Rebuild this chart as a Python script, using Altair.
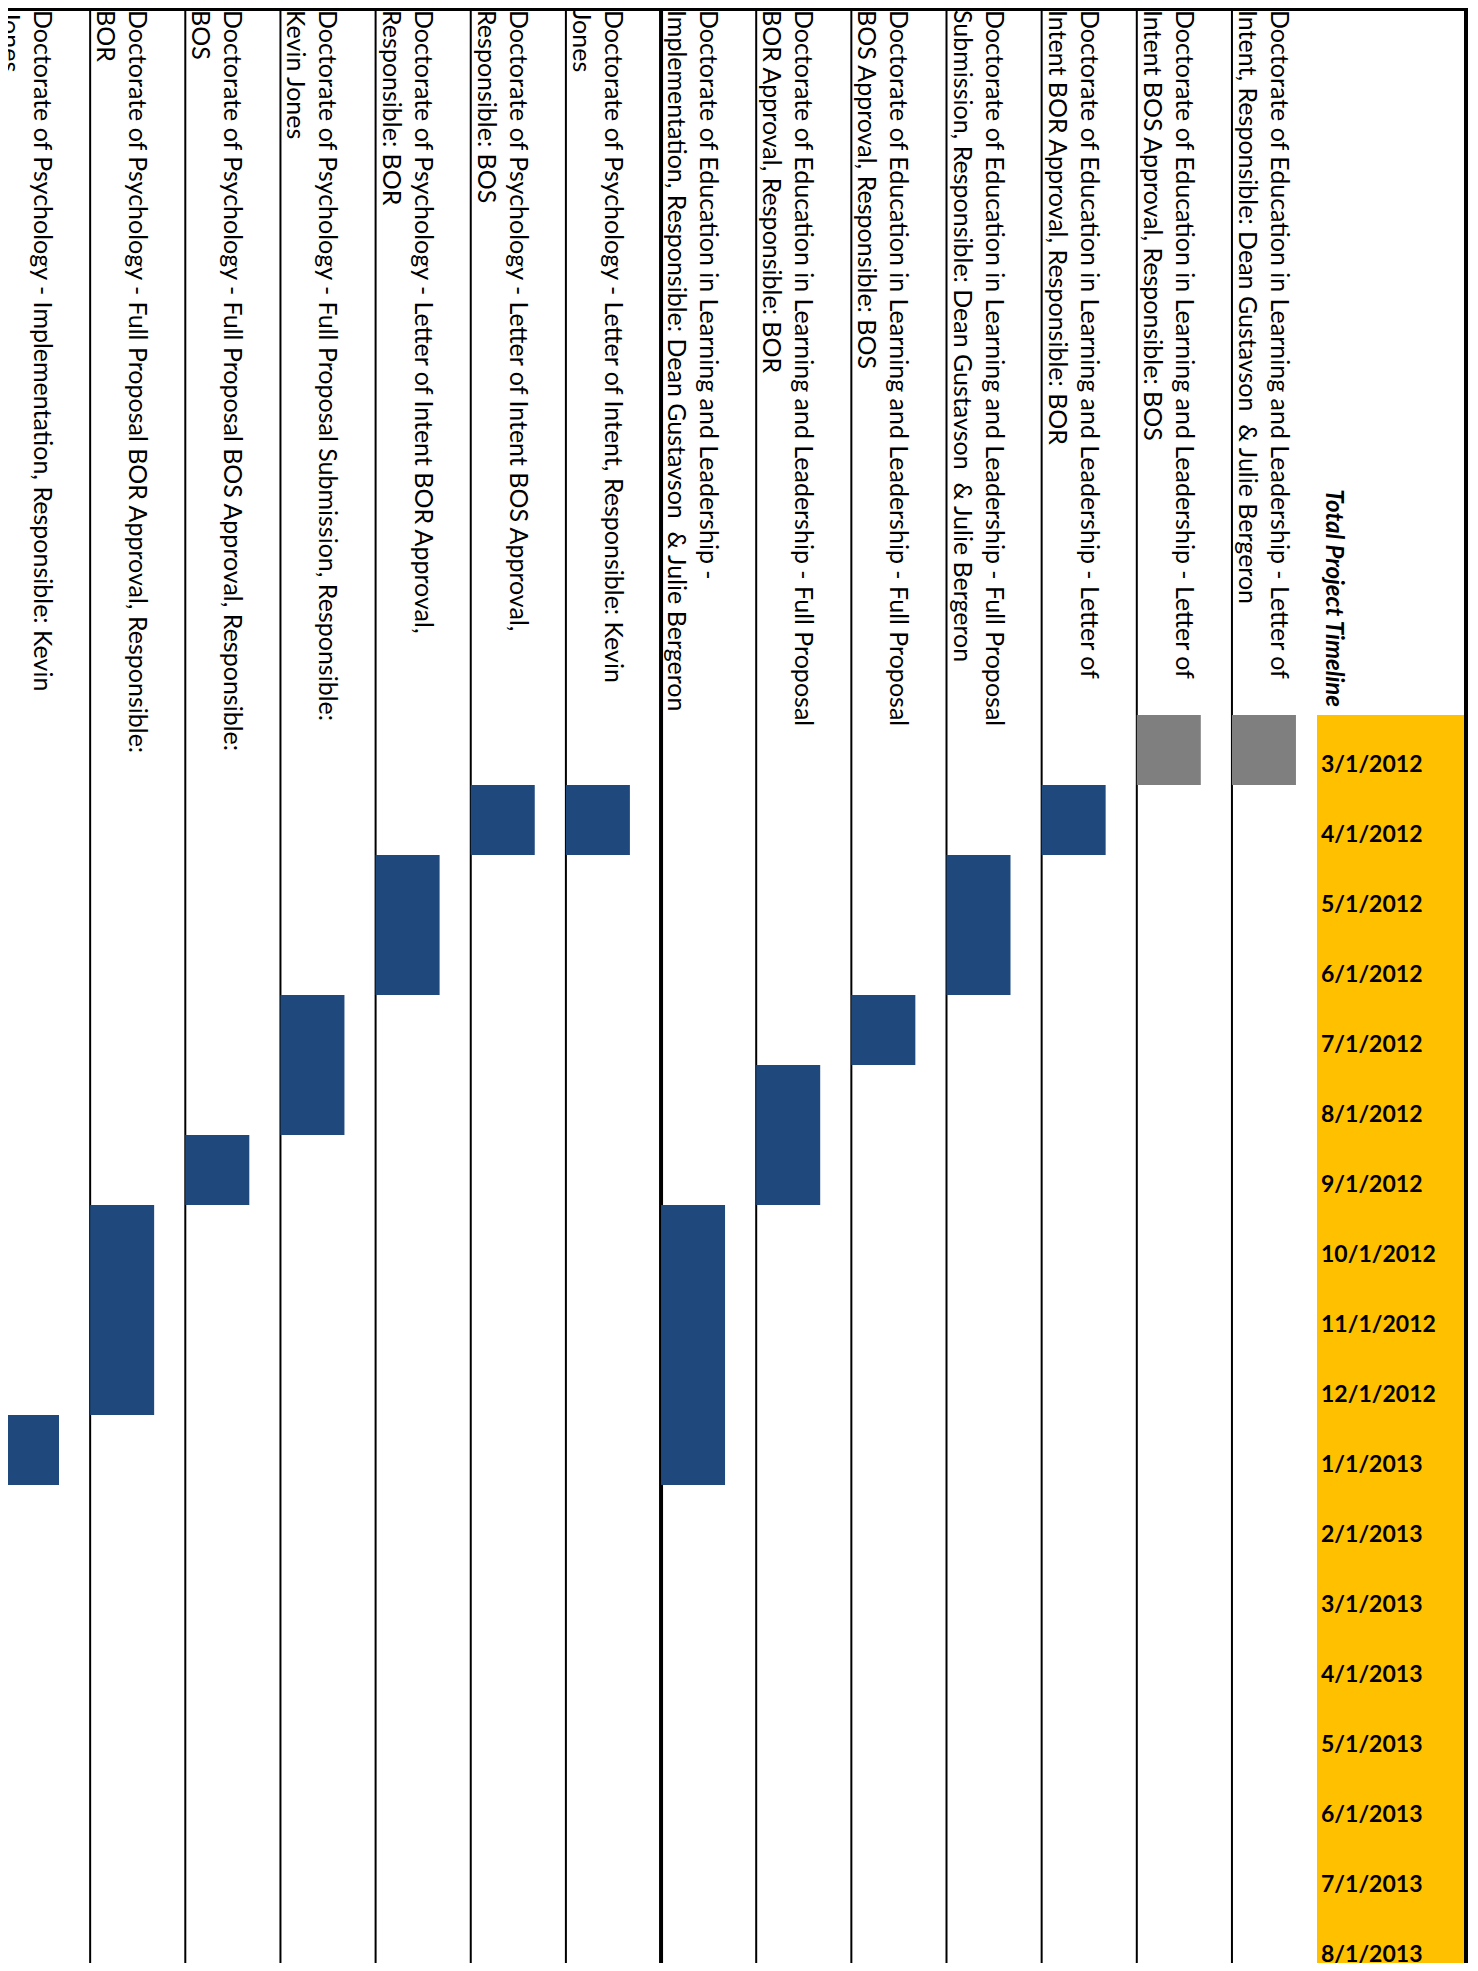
import altair as alt
import pandas as pd

# ---------------- data ----------------
dates = ["3/1/2012", "4/1/2012", "5/1/2012", "6/1/2012", "7/1/2012", "8/1/2012",
         "9/1/2012", "10/1/2012", "11/1/2012", "12/1/2012", "1/1/2013", "2/1/2013",
         "3/1/2013", "4/1/2013", "5/1/2013", "6/1/2013", "7/1/2013", "8/1/2013"]

title = "Total Project Timeline"

task_line1 = [
    "Doctorate of Education in Learning and Leadership - Letter of",
    "Doctorate of Education in Learning and Leadership - Letter of",
    "Doctorate of Education in Learning and Leadership - Letter of",
    "Doctorate of Education in Learning and Leadership - Full Proposal",
    "Doctorate of Education in Learning and Leadership - Full Proposal",
    "Doctorate of Education in Learning and Leadership - Full Proposal",
    "Doctorate of Education in Learning and Leadership -",
    "Doctorate of Psychology - Letter of Intent, Responsible: Kevin",
    "Doctorate of Psychology - Letter of Intent BOS Approval,",
    "Doctorate of Psychology - Letter of Intent BOR Approval,",
    "Doctorate of Psychology - Full Proposal Submission, Responsible:",
    "Doctorate of Psychology - Full Proposal BOS Approval, Responsible:",
    "Doctorate of Psychology - Full Proposal BOR Approval, Responsible:",
    "Doctorate of Psychology - Implementation, Responsible: Kevin",
]
task_line2 = [
    "Intent, Responsible: Dean Gustavson\u00a0 & Julie Bergeron",
    "Intent BOS Approval, Responsible: BOS",
    "Intent BOR Approval, Responsible: BOR",
    "Submission, Responsible: Dean Gustavson\u00a0 & Julie Bergeron",
    "BOS Approval, Responsible: BOS",
    "BOR Approval, Responsible: BOR",
    "Implementation, Responsible: Dean Gustavson\u00a0 & Julie Bergeron",
    "Jones",
    "Responsible: BOS",
    "Responsible: BOR",
    "Kevin Jones",
    "BOS",
    "BOR",
    "Jones",
]
task_start = ["3/1/2012", "3/1/2012", "4/1/2012", "5/1/2012", "7/1/2012", "8/1/2012",
              "10/1/2012", "4/1/2012", "4/1/2012", "5/1/2012", "7/1/2012", "9/1/2012",
              "10/1/2012", "1/1/2013"]
task_months = [1, 1, 1, 2, 1, 2, 4, 1, 1, 2, 2, 1, 3, 1]
task_status = ["Complete", "Complete", "Planned", "Planned", "Planned", "Planned", "Planned",
               "Planned", "Planned", "Planned", "Planned", "Planned", "Planned", "Planned"]

# ---------------- layout ----------------
W, H = 1462, 1955
COL_W = 95.15          # px per task column
X0 = -13               # px of the first column line
MONTH_H = 70           # px per month
Y0 = 707               # px of the first month
BAR_FRAC = 64 / COL_W
N = len(task_line1)
FONT = "Lato"

xs = alt.Scale(domain=[0, 15], range=[X0, X0 + 15 * COL_W])
ys = alt.Scale(domain=[0, 18], range=[Y0, Y0 + 18 * MONTH_H])

month_idx = {d: i for i, d in enumerate(dates)}

bars = pd.DataFrame({
    "task": [a + " " + b for a, b in zip(task_line1, task_line2)],
    "u0": [N - 1 - k for k in range(N)],
    "m0": [month_idx[s] for s in task_start],
    "months": task_months,
    "status": task_status,
})
bars["u1"] = bars["u0"] + BAR_FRAC
bars["m1"] = bars["m0"] + bars["months"]

rows = []
for k in range(N):
    col = N - 1 - k
    rows.append({"ux": col + 39 / COL_W, "line": task_line1[k]})
    rows.append({"ux": col + 7 / COL_W, "line": task_line2[k]})
labels = pd.DataFrame(rows)

lines = pd.DataFrame({"u": list(range(1, N))})
lines["w"] = [4 if u == 7 else 2 for u in lines["u"]]

hdr = pd.DataFrame({"date": dates, "m0": list(range(len(dates)))})
hdr["m1"] = hdr["m0"] + 1
hdr["ml"] = hdr["m0"] + 57 / MONTH_H

# ---------------- layers ----------------
header_cells = alt.Chart(hdr).mark_rect(color="#FFC000").encode(
    x=alt.value(1309), x2=alt.value(1456),
    y=alt.Y("m0:Q", scale=ys, axis=None), y2="m1:Q",
)

col_rules = alt.Chart(lines).mark_rule(color="black").encode(
    x=alt.X("u:Q", scale=xs, axis=None),
    strokeWidth=alt.StrokeWidth("w:Q", scale=None, legend=None),
)

frame = pd.DataFrame({"k": [0]})
top_border = alt.Chart(frame).mark_rule(color="black", strokeWidth=3).encode(
    x=alt.value(0), x2=alt.value(1460), y=alt.value(1.5)
)
right_border = alt.Chart(frame).mark_rule(color="black", strokeWidth=4).encode(
    x=alt.value(1458), y=alt.value(0), y2=alt.value(H)
)

bar_layer = alt.Chart(bars).mark_rect().encode(
    x=alt.X("u0:Q", scale=xs, axis=None), x2="u1:Q",
    y=alt.Y("m0:Q", scale=ys, axis=None), y2="m1:Q",
    color=alt.Color("status:N", scale=alt.Scale(domain=["Complete", "Planned"],
                                                range=["#7F7F7F", "#1F497D"]), legend=None),
)

task_text = alt.Chart(labels).mark_text(
    angle=90, align="left", baseline="alphabetic", font=FONT, fontSize=25, color="black"
).encode(
    x=alt.X("ux:Q", scale=xs, axis=None), y=alt.value(2), text="line:N"
)

date_text = alt.Chart(hdr).mark_text(
    align="left", baseline="alphabetic", font=FONT, fontSize=23, fontWeight="bold", color="black"
).encode(
    x=alt.value(1313), y=alt.Y("ml:Q", scale=ys, axis=None), text="date:N"
)

title_text = alt.Chart(pd.DataFrame({"t": [title]})).mark_text(
    angle=90, align="right", baseline="alphabetic", font=FONT, fontSize=24,
    fontWeight="bold", fontStyle="italic", color="black"
).encode(
    x=alt.value(1318), y=alt.value(699), text="t:N"
)

chart = alt.layer(
    header_cells, col_rules, top_border, right_border, bar_layer,
    task_text, date_text, title_text
).properties(
    width=W, height=H, padding=0, autosize="none", background="white"
).configure_view(stroke=None)

chart.save("out.html", embed_options={"renderer": "svg", "actions": False})
